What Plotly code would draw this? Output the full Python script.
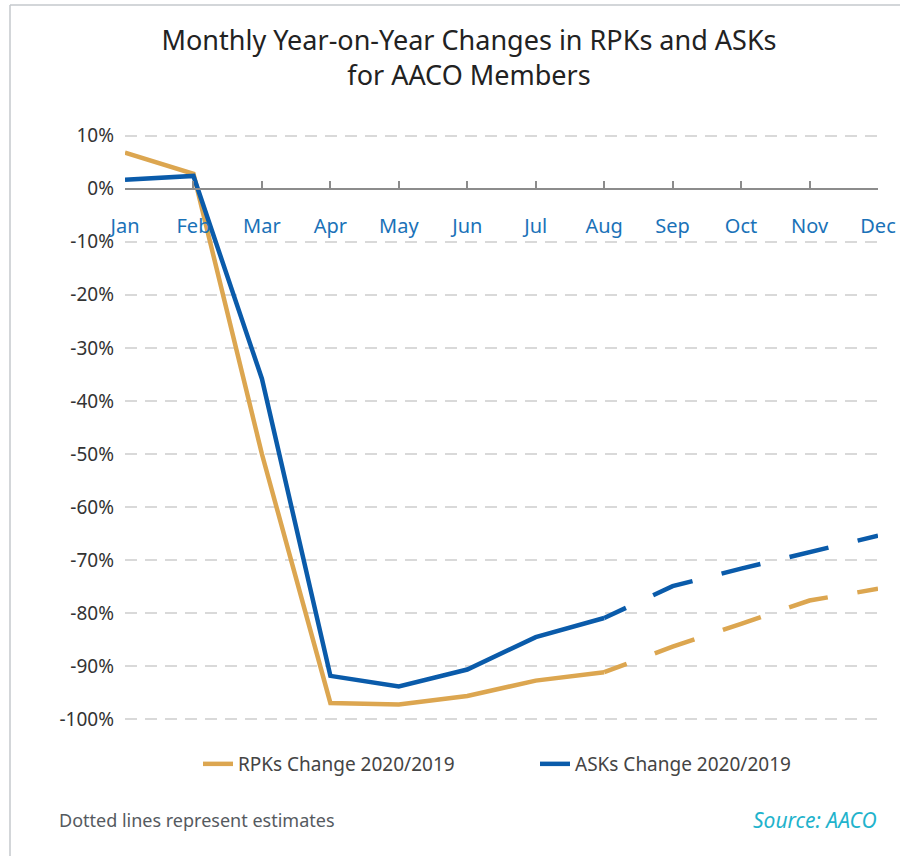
import plotly.graph_objects as go

months = ["Jan", "Feb", "Mar", "Apr", "May", "Jun", "Jul", "Aug", "Sep", "Oct", "Nov", "Dec"]

actual_months = months[:8]
est_months = months[7:]

rpk_actual = [6.8, 2.8, -50.0, -96.9, -97.2, -95.6, -92.7, -91.1]
rpk_est = [-91.1, -86.3, -82.0, -77.6, -75.4]

ask_actual = [1.7, 2.4, -35.8, -91.8, -93.8, -90.6, -84.5, -80.9]
ask_est = [-80.9, -74.9, -71.6, -68.6, -65.4]

y_ticks = [10, 0, -10, -20, -30, -40, -50, -60, -70, -80, -90, -100]
y_tick_text = ["10%", "0%", "-10%", "-20%", "-30%", "-40%", "-50%", "-60%", "-70%", "-80%", "-90%", "-100%"]

ORANGE = "#DCA650"
BLUE = "#0A5BAA"
FONT = "Noto Sans"
DASH = "24px,30px,42px,30px,40px,30px,40px,30px,40px,30px"

fig = go.Figure()
fig.add_trace(go.Scatter(x=actual_months, y=rpk_actual, mode="lines", name="RPKs Change 2020/2019",
                         line=dict(color=ORANGE, width=4.5), legendgroup="rpk"))
fig.add_trace(go.Scatter(x=est_months, y=rpk_est, mode="lines", showlegend=False,
                         line=dict(color=ORANGE, width=4.5, dash=DASH), legendgroup="rpk"))
fig.add_trace(go.Scatter(x=actual_months, y=ask_actual, mode="lines", name="ASKs Change 2020/2019",
                         line=dict(color=BLUE, width=4.5), legendgroup="ask"))
fig.add_trace(go.Scatter(x=est_months, y=ask_est, mode="lines", showlegend=False,
                         line=dict(color=BLUE, width=4.5, dash=DASH), legendgroup="ask"))

W, H = 900, 856
L, R, T, B = 125, 22, 125, 126
ph = H - T - B
pw = W - L - R
y_lo, y_hi = -102, 12
zero_pos = (0 - y_lo) / (y_hi - y_lo)

def px_x(p):
    return (p - L) / pw

def px_y(p):
    return (H - B - p) / ph

fig.update_layout(
    width=W, height=H,
    margin=dict(l=L, r=R, t=T, b=B, autoexpand=False),
    paper_bgcolor="white", plot_bgcolor="white",
    font=dict(family=FONT, color="#333333", size=17),
    title=dict(text="Monthly Year-on-Year Changes in RPKs and ASKs<br>for AACO Members",
               x=469 / W, xanchor="center", y=1 - 50 / H, yanchor="middle",
               font=dict(family=FONT, size=27, color="#222222")),
    xaxis=dict(type="category", categoryorder="array", categoryarray=months,
               range=[0, 11], anchor="free", position=zero_pos, automargin=False,
               showline=True, linecolor="#8c8c8c", linewidth=2,
               ticks="inside", ticklen=7, tickwidth=2, tickcolor="#8c8c8c",
               showgrid=False, tickfont=dict(color="#1a72b8", size=20, family=FONT),
               ticklabelstandoff=19, fixedrange=True),
    yaxis=dict(range=[y_lo, y_hi], tickvals=y_ticks, ticktext=y_tick_text, automargin=False,
               showgrid=True, gridcolor="#d9d9d9", gridwidth=2, griddash="12px,8px",
               zeroline=False, showline=False, ticks="",
               tickfont=dict(color="#333333", size=19, family=FONT), ticklabelstandoff=10,
               fixedrange=True),
    showlegend=True,
    legend=dict(orientation="h", x=px_x(198), xanchor="left", y=px_y(764), yanchor="middle",
                entrywidth=292, entrywidthmode="pixels",
                font=dict(color="#444444", size=19, family=FONT), bgcolor="rgba(0,0,0,0)"),
    shapes=[
        dict(type="line", xref="paper", yref="paper", x0=px_x(10), x1=px_x(900), y0=px_y(5), y1=px_y(5),
             line=dict(color="#c4c8cc", width=1.5)),
        dict(type="line", xref="paper", yref="paper", x0=px_x(10), x1=px_x(10), y0=px_y(5), y1=px_y(856),
             line=dict(color="#c4c8cc", width=1.5)),
    ],
    annotations=[
        dict(text="Dotted lines represent estimates", xref="paper", yref="paper",
             x=px_x(57), y=px_y(820), xanchor="left", yanchor="middle", showarrow=False,
             font=dict(color="#555a60", size=18, family=FONT)),
        dict(text="<i>Source: AACO</i>", xref="paper", yref="paper",
             x=px_x(879), y=px_y(820), xanchor="right", yanchor="middle", showarrow=False,
             font=dict(color="#1fb3cc", size=21, family=FONT)),
    ],
)

fig.write_html("out.html", config={"displayModeBar": False},
               post_script="document.body.style.margin='0';document.body.style.overflow='hidden';")
